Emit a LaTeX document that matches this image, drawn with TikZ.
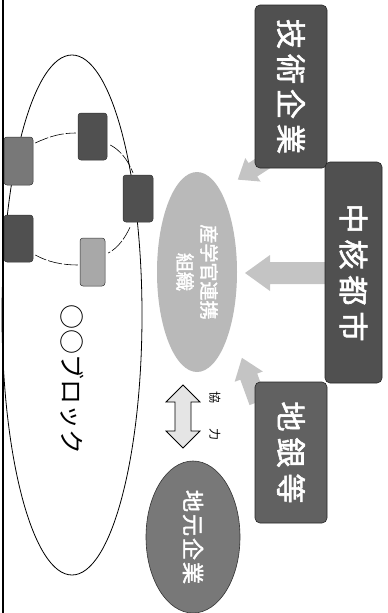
\documentclass[tikz,border=0pt]{standalone}
\usepackage{fontspec}
\newfontfamily\jp{Noto Sans CJK JP}[AutoFakeBold=2]
\usetikzlibrary{shapes.geometric}
\definecolor{dk}{HTML}{505050}
\definecolor{md}{HTML}{787878}
\definecolor{lt}{HTML}{A8A8A8}
\definecolor{dotgray}{HTML}{C4C4C4}
\begin{document}
\begin{tikzpicture}[x=1pt,y=-1pt,
  bigbox/.style={rectangle, rounded corners=5pt, fill=dk, draw=black!85, line width=0.6pt,
     rotate=-90, text=white, font=\jp\bfseries\fontsize{30}{30}\selectfont, inner sep=0pt},
  smallbox/.style={rectangle, rounded corners=3pt, draw=black!80, line width=0.5pt, inner sep=0pt},
  link/.style={line width=0.6pt, dash pattern=on 14pt off 2pt},
  dotarrow/.style={fill=dotgray},
]
\useasboundingbox (0,0) rectangle (388,613);
% left border
\draw[line width=1.6pt] (3,0) -- (3,613);
% big block ellipse
\node[ellipse, draw, line width=0.8pt, minimum width=140, minimum height=520, inner sep=0pt] (block) at (72,315) {};
% small boxes
\node[smallbox, fill=dk, minimum width=29, minimum height=47] (b1) at (92.5,136.5) {};
\node[smallbox, fill=md, minimum width=29, minimum height=48] (b2) at (18.5,161) {};
\node[smallbox, fill=dk, minimum width=30, minimum height=47] (b3) at (138,198.5) {};
\node[smallbox, fill=dk, minimum width=29, minimum height=47] (b4) at (18.5,238.5) {};
\node[smallbox, fill=lt, minimum width=25, minimum height=48] (b5) at (92.5,262) {};
% links between small boxes
\draw[link] ([xshift=2pt,yshift=18pt]b2.east) .. controls (50,136) and (62,133) .. ([xshift=-2pt,yshift=3.5pt]b1.west);
\draw[link] ([xshift=3pt,yshift=-8.5pt]b1.east) .. controls (120,150) and (128,160) .. ([xshift=-5pt,yshift=2pt]b3.north);
\draw[link] ([xshift=-8pt,yshift=-5pt]b3.south) .. controls (125,238) and (118,248) .. ([xshift=3pt,yshift=9pt]b5.east);
\draw[link] ([xshift=-2pt,yshift=-3pt]b5.west) .. controls (62,265) and (48,262) .. ([xshift=2pt,yshift=-16.5pt]b4.east);
% block label
\node[rotate=-90, font=\jp\fontsize{25}{25}\selectfont] (blocklabel) at (72,379) {○○ブロック};
% dotted arrows (drawn before the boxes so their tails hide underneath)
\begin{scope}[shift={(325,273)}, rotate=180]
  \fill[dotarrow] (0,-11) -- (55,-11) -- (55,-18) -- (80,0) -- (55,18) -- (55,11) -- (0,11) -- cycle;
\end{scope}
\begin{scope}[shift={(268,160)}, rotate=213]
  \fill[dotarrow] (0,-8) -- (18,-8) -- (18,-14) -- (36,0) -- (18,14) -- (18,8) -- (0,8) -- cycle;
\end{scope}
\begin{scope}[shift={(258,402)}, rotate=110]
  \fill[dotarrow] (0,-9) -- (27,-9) -- (27,-15) -- (47,0) -- (27,15) -- (27,9) -- (0,9) -- cycle;
\end{scope}
% central ellipse
\node[ellipse, fill=gray!55, rotate=-90, minimum width=200, minimum height=80, inner sep=0pt,
      text=white, font=\jp\bfseries\fontsize{19}{24}\selectfont, align=center] (center) at (197,272)
      {産学官連携\\組織};
% right boxes
\node[bigbox, minimum width=163, minimum height=72] (tech) at (291,86.5)
  {技\kern5pt 術\kern5pt 企\kern5pt 業};
\node[bigbox, minimum width=221, minimum height=57] (city) at (353.5,272.5)
  {中\kern6pt 核\kern6pt 都\kern6pt 市};
\node[bigbox, fill=dk!90!white, minimum width=141, minimum height=72] (bank) at (291,452.5)
  {地\kern6pt 銀\kern6pt 等};
% double arrow
\draw[fill=gray!20, line width=0.8pt] (183,385) -- (200,402) -- (191,402) -- (191,431) -- (200,431)
  -- (183,448) -- (166,431) -- (175,431) -- (175,402) -- (166,402) -- cycle;
\node[rotate=-90, font=\jp\fontsize{12}{12}\selectfont] (coop) at (215,416) {協\hspace{26pt}力};
% local firms
\node[ellipse, fill=md, draw=black!80, line width=0.6pt, rotate=-90, minimum width=152, minimum height=94,
      inner sep=0pt, text=white, font=\jp\bfseries\fontsize{22}{22}\selectfont] (local) at (193,537)
      {地\kern2pt 元\kern2pt 企\kern2pt 業};
\end{tikzpicture}
\end{document}
